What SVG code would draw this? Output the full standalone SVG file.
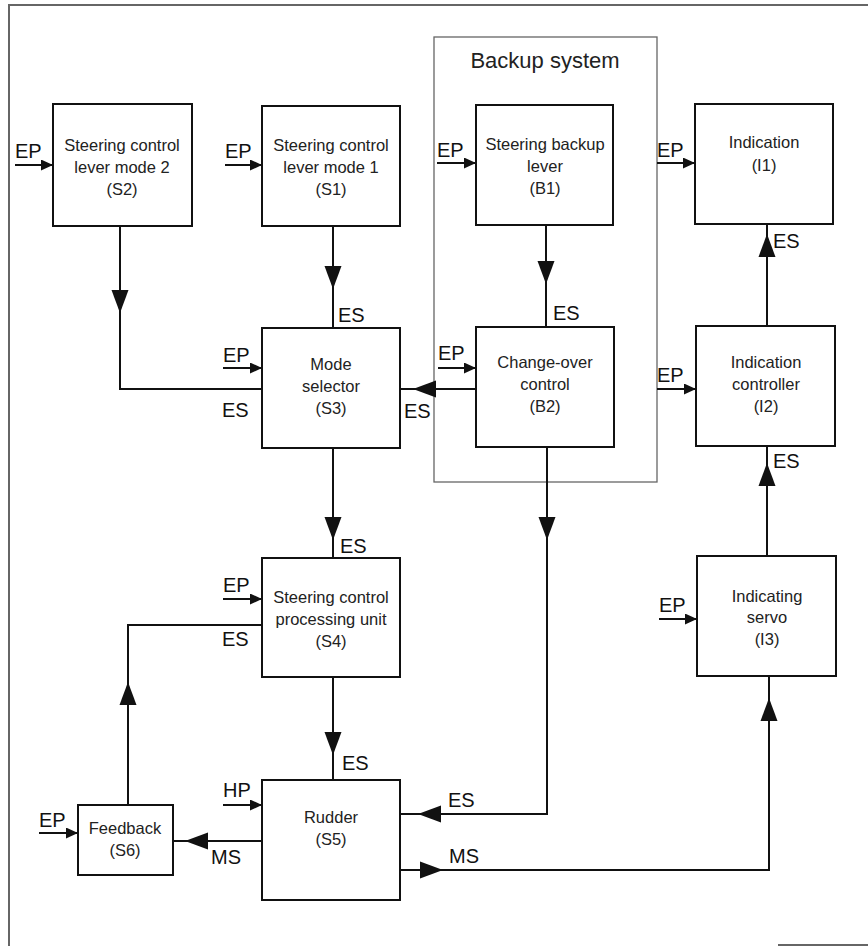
<svg xmlns="http://www.w3.org/2000/svg" width="868" height="946" viewBox="0 0 868 946">
<style>
.box{fill:#fff;stroke:#111;stroke-width:2}
.grp{fill:none;stroke:#666;stroke-width:1.3}
.frame{fill:none;stroke:#666;stroke-width:2}
.ln{fill:none;stroke:#111;stroke-width:2}
.in{fill:none;stroke:#111;stroke-width:1.8}
.t{font-family:"Liberation Sans",Arial,sans-serif;font-size:16.5px;fill:#222;text-anchor:middle}
.lb{font-family:"Liberation Sans",Arial,sans-serif;font-size:20px;fill:#111}
.ttl{font-family:"Liberation Sans",Arial,sans-serif;font-size:22px;fill:#222;text-anchor:middle}
</style>
<defs>
<path id="ah" d="M0,0 L-23,-8.5 L-23,8.5 Z" fill="#111"/>
<marker id="sm" markerUnits="userSpaceOnUse" markerWidth="14" markerHeight="12" refX="12" refY="5.5" orient="auto">
<path d="M0,0 L12,5.5 L0,11 Z" fill="#111"/>
</marker>
</defs>

<g id="frame">
<path class="frame" d="M9,946 V5 H868"/>
<path class="frame" d="M778,945 H868" stroke-width="1.5"/>
</g>

<g id="backup-system">
<rect class="grp" x="434" y="37" width="223" height="445"/>
<text class="ttl" x="545" y="68">Backup system</text>
</g>

<g id="S2">
<rect class="box" x="53" y="104" width="139" height="122"/>
<text class="t" x="122" y="151">Steering control</text>
<text class="t" x="122" y="173">lever mode 2</text>
<text class="t" x="122" y="195">(S2)</text>
</g>
<g id="S1">
<rect class="box" x="262" y="106" width="138" height="120"/>
<text class="t" x="331" y="151">Steering control</text>
<text class="t" x="331" y="173">lever mode 1</text>
<text class="t" x="331" y="195">(S1)</text>
</g>
<g id="B1">
<rect class="box" x="476" y="105" width="137" height="120"/>
<text class="t" x="545" y="150">Steering backup</text>
<text class="t" x="545" y="172">lever</text>
<text class="t" x="545" y="194">(B1)</text>
</g>
<g id="I1">
<rect class="box" x="695" y="104" width="138" height="120"/>
<text class="t" x="764" y="148">Indication</text>
<text class="t" x="764" y="171">(I1)</text>
</g>
<g id="S3">
<rect class="box" x="262" y="328" width="138" height="120"/>
<text class="t" x="331" y="370">Mode</text>
<text class="t" x="331" y="392">selector</text>
<text class="t" x="331" y="414">(S3)</text>
</g>
<g id="B2">
<rect class="box" x="476" y="327" width="138" height="120"/>
<text class="t" x="545" y="368">Change-over</text>
<text class="t" x="545" y="390">control</text>
<text class="t" x="545" y="412">(B2)</text>
</g>
<g id="I2">
<rect class="box" x="696" y="326" width="139" height="120"/>
<text class="t" x="766" y="368">Indication</text>
<text class="t" x="766" y="390">controller</text>
<text class="t" x="766" y="412">(I2)</text>
</g>
<g id="S4">
<rect class="box" x="262" y="558" width="138" height="119"/>
<text class="t" x="331" y="603">Steering control</text>
<text class="t" x="331" y="625">processing unit</text>
<text class="t" x="331" y="647">(S4)</text>
</g>
<g id="I3">
<rect class="box" x="697" y="556" width="139" height="120"/>
<text class="t" x="767" y="602">Indicating</text>
<text class="t" x="767" y="623">servo</text>
<text class="t" x="767" y="645">(I3)</text>
</g>
<g id="S5">
<rect class="box" x="262" y="780" width="138" height="120"/>
<text class="t" x="331" y="823">Rudder</text>
<text class="t" x="331" y="845">(S5)</text>
</g>
<g id="S6">
<rect class="box" x="78" y="805" width="95" height="70"/>
<text class="t" x="125" y="834">Feedback</text>
<text class="t" x="125" y="856">(S6)</text>
</g>

<g id="connectors">
<!-- S2 -> S3 -->
<path class="ln" d="M120,226 V389 H262"/>
<use href="#ah" transform="translate(120,313) rotate(90)"/>
<text class="lb" x="222" y="417">ES</text>
<!-- S1 -> S3 -->
<path class="ln" d="M333,226 V328"/>
<use href="#ah" transform="translate(333,289) rotate(90)"/>
<text class="lb" x="338" y="322">ES</text>
<!-- B1 -> B2 -->
<path class="ln" d="M546,225 V327"/>
<use href="#ah" transform="translate(546,284) rotate(90)"/>
<text class="lb" x="553" y="320">ES</text>
<!-- B2 -> S3 -->
<path class="ln" d="M476,389 H400"/>
<use href="#ah" transform="translate(413,389) rotate(180)"/>
<text class="lb" x="404" y="418">ES</text>
<!-- S3 -> S4 -->
<path class="ln" d="M333,448 V558"/>
<use href="#ah" transform="translate(333,540) rotate(90)"/>
<text class="lb" x="340" y="553">ES</text>
<!-- B2 -> S5 -->
<path class="ln" d="M547,447 V814 H400"/>
<use href="#ah" transform="translate(547,540) rotate(90)"/>
<use href="#ah" transform="translate(418,814) rotate(180)"/>
<text class="lb" x="448" y="807">ES</text>
<!-- S6 -> S4 feedback -->
<path class="ln" d="M128,805 V625 H262"/>
<use href="#ah" transform="translate(128,682) rotate(-90)"/>
<text class="lb" x="222" y="646">ES</text>
<!-- S4 -> S5 -->
<path class="ln" d="M333,677 V780"/>
<use href="#ah" transform="translate(333,755) rotate(90)"/>
<text class="lb" x="342" y="770">ES</text>
<!-- S5 -> S6 -->
<path class="ln" d="M262,841 H173"/>
<use href="#ah" transform="translate(185,841) rotate(180)"/>
<text class="lb" x="211" y="864">MS</text>
<!-- S5 -> I3 -->
<path class="ln" d="M400,870 H769 V676"/>
<use href="#ah" transform="translate(443,870)"/>
<use href="#ah" transform="translate(769,698) rotate(-90)"/>
<text class="lb" x="449" y="863">MS</text>
<!-- I3 -> I2 -->
<path class="ln" d="M767,556 V446"/>
<use href="#ah" transform="translate(767,463) rotate(-90)"/>
<text class="lb" x="773" y="468">ES</text>
<!-- I2 -> I1 -->
<path class="ln" d="M767,326 V224"/>
<use href="#ah" transform="translate(767,234) rotate(-90)"/>
<text class="lb" x="773" y="248">ES</text>

<!-- power inputs -->
<path class="in" d="M15,165 H53" marker-end="url(#sm)"/>
<text class="lb" x="15" y="158">EP</text>
<path class="in" d="M225,165 H262" marker-end="url(#sm)"/>
<text class="lb" x="225" y="158">EP</text>
<path class="in" d="M437,163 H476" marker-end="url(#sm)"/>
<text class="lb" x="437" y="157">EP</text>
<path class="in" d="M657,163 H695" marker-end="url(#sm)"/>
<text class="lb" x="657" y="157">EP</text>
<path class="in" d="M223,368 H262" marker-end="url(#sm)"/>
<text class="lb" x="223" y="362">EP</text>
<path class="in" d="M438,368 H476" marker-end="url(#sm)"/>
<text class="lb" x="438" y="360">EP</text>
<path class="in" d="M657,389 H696" marker-end="url(#sm)"/>
<text class="lb" x="657" y="382">EP</text>
<path class="in" d="M223,599 H262" marker-end="url(#sm)"/>
<text class="lb" x="223" y="592">EP</text>
<path class="in" d="M659,619 H697" marker-end="url(#sm)"/>
<text class="lb" x="659" y="612">EP</text>
<path class="in" d="M223,805 H262" marker-end="url(#sm)"/>
<text class="lb" x="223" y="797">HP</text>
<path class="in" d="M39,833 H78" marker-end="url(#sm)"/>
<text class="lb" x="39" y="827">EP</text>
</g>
</svg>
